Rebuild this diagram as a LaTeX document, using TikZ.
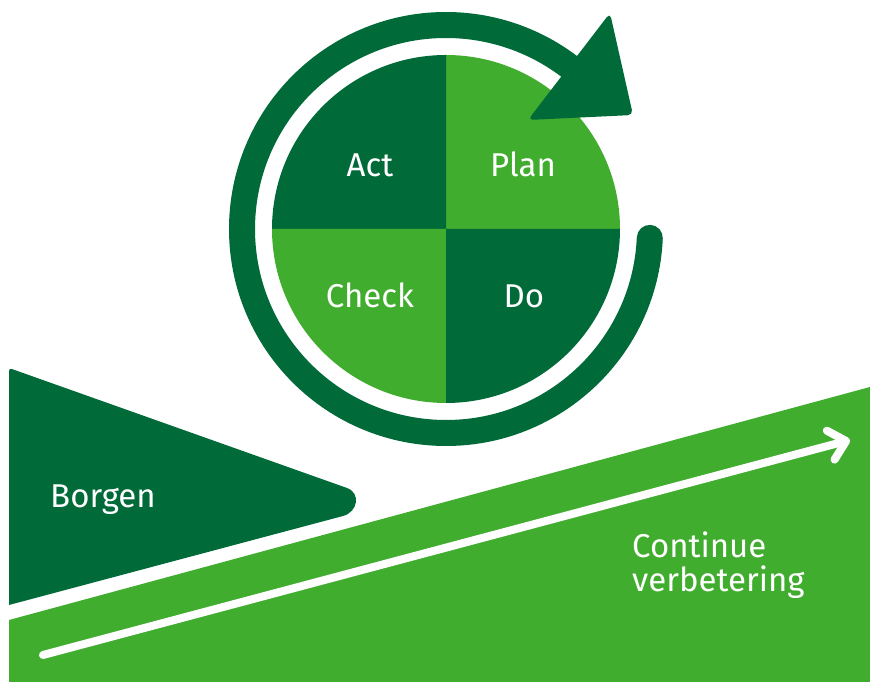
\documentclass[tikz,border=0pt]{standalone}
\usepackage{fontspec}
\setmainfont{Fira Sans}
\usepackage{tikz}
\usetikzlibrary{arrows.meta}
\usetikzlibrary{calc}
\definecolor{darkgreen}{RGB}{0,106,57}
\definecolor{lightgreen}{RGB}{65,173,46}
\tikzstyle{phase}=[text=white,font=\fontsize{33}{40}\selectfont,anchor=base]
\tikzstyle{label}=[text=white,font=\fontsize{33}{40}\selectfont,anchor=base west,inner sep=0pt]
\tikzstyle{ring}=[draw=darkgreen,line width=26pt,line cap=round]
\tikzstyle{rise}=[draw=white,line width=8pt,line cap=round,-{Straight Barb[length=16pt,width=30pt,round]}]

\begin{document}
\begin{tikzpicture}[x=1pt,y=1pt]

   \useasboundingbox (0,0) rectangle (870,682);

   % stair: improvement band and the wedge on top of it
   \fill[lightgreen] (9,0) -- (9,62) -- (870,295) -- (870,0) -- cycle;
   \fill[darkgreen] (9,200) [rounded corners=3pt] -- (9,314) [sharp corners] -- (347,194)
        .. controls (361,189) and (358,170) .. (343,166) -- (9,77) -- cycle;

   % pie with the four phases
   \coordinate (C) at (446,453);
   \foreach \a/\col in {0/lightgreen,90/darkgreen,180/lightgreen,270/darkgreen}
        \fill[\col] (C) -- ++(\a:174) arc[start angle=\a, end angle=\a+90, radius=174] -- cycle;

   \foreach \pos/ \name / \label in {{(370,505)/act/Act},{(523,505)/plan/Plan},{(370,374)/check/Check},{(524,374)/do/Do}}
        \node[phase] (\name) at \pos {\label};

   % cycle arrow round the pie
   \coordinate (tail) at ($(C)+(-2.5:204)$);
   \draw[ring] (tail) arc[start angle=-2.5, end angle=-307.5, radius=204];
   \fill[darkgreen, rounded corners=5pt] (610,669) -- (633,567) -- (528,562) -- cycle;

   % rising arrow
   \coordinate (low) at (43,27);
   \coordinate (high) at (850,242);
   \draw[rise] (low) -- (high);

   \node[label] (borgen) at (50,174) {Borgen};
   \node[label] (continue) at (632,124) {Continue};
   \node[label] (verbetering) at (632,90) {verbetering};
       \end{tikzpicture}
\end{document}
